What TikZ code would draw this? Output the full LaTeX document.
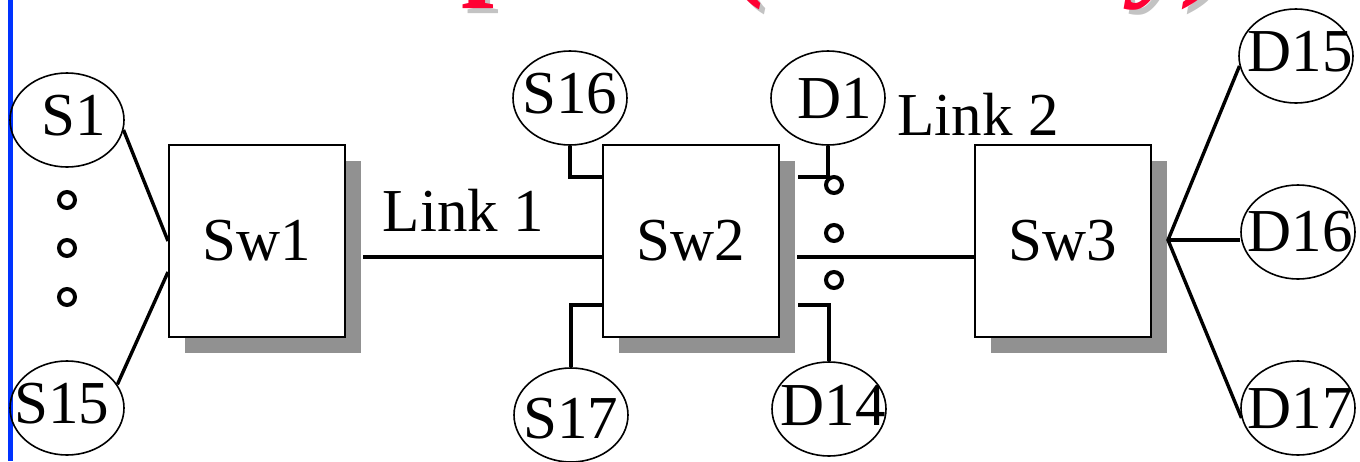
\documentclass[tikz,border=0pt]{standalone}
\usepackage{fontspec}
\setmainfont{Liberation Serif}
\usepackage{tikz}
\usetikzlibrary{calc,positioning,shapes.geometric,shadows}
\definecolor{titlered}{RGB}{255,0,51}
\definecolor{titleshade}{RGB}{195,195,195}
\definecolor{boxshade}{RGB}{145,145,145}
\definecolor{edgeblue}{RGB}{0,51,255}
\tikzset{
  switch/.style={draw,line width=1pt,fill=white,minimum width=88pt,minimum height=96pt,
    inner sep=0pt,drop shadow={shadow xshift=8pt,shadow yshift=-8pt,fill=boxshade,opacity=1}},
  host/.style={ellipse,draw,line width=0.8pt,minimum width=57pt,minimum height=47pt,inner sep=0pt},
  wire/.style={line width=1.7pt},
  ring/.style={line width=2pt},
  titletext/.style={inner sep=0pt,anchor=base west,font=\fontsize{59}{70}\selectfont\bfseries},
  every node/.style={font=\fontsize{30.5}{36}\selectfont},
  every label/.style={inner sep=0pt}
}

\begin{document}
\begin{tikzpicture}[x=0.5pt,y=-0.5pt]
  \useasboundingbox (0,0) rectangle (1360,461);
  \clip (0,0) rectangle (1360,461);
  % title, cut off by the top edge
  \node[titletext,text=titleshade] (titleshadow) at (171,-12)
    {Example 1 \textit{\fontsize{62}{70}\selectfont(Stability)}};
  \node[titletext,text=titlered] (title) at (166,-17)
    {Example 1 \textit{\fontsize{62}{70}\selectfont(Stability)}};
  % blue edge of the slide
  \draw[edgeblue,line width=2.2pt] (10.5,0) -- (10.5,461);
  % switches
  \node[switch] (sw1) at (257,241) {Sw1};
  \node[switch,right=128pt of sw1] (sw2) {Sw2};
  \node[switch,right=97pt of sw2] (sw3) {Sw3};
  % sources and destinations
  \node[host,label={[xshift=3.5pt,yshift=2pt]center:S1}] (s1) at (67,120) {};
  \node[host,label={[xshift=-2.5pt,yshift=2pt]center:S15}] (s15) at (67,408) {};
  \node[host,label={[yshift=2pt]center:S16}] (s16) at (570,98) {};
  \node[host,label={[yshift=-2pt]center:S17}] (s17) at (571,415) {};
  \node[host,label={[xshift=3.5pt]center:D1}] (d1) at (828,98) {};
  \node[host,label={[xshift=2pt,yshift=2pt]center:D14}] (d14) at (829,409) {};
  \node[host,label={[xshift=2pt,yshift=2pt]center:D15}] (d15) at (1296,56) {};
  \node[host,label={[xshift=1pt]center:D16}] (d16) at (1298,232) {};
  \node[host,label={[xshift=1pt]center:D17}] (d17) at (1298,408) {};
  % "more hosts" dots
  \foreach \y in {200,248,297} \draw[ring] (67,\y) circle (4pt);
  \foreach \y in {185,233,280} \draw[ring] (834,\y) circle (4pt);
  % links between switches
  \draw[wire] ($(sw1.east)+(17,16)$) -- ($(sw2.west)+(0,16)$)
    node[pos=0.42,above=12pt,inner sep=0pt] (link1) {Link 1};
  \draw[wire] ($(sw2.east)+(17,16)$) -- ($(sw3.west)+(0,16)$);
  \node[anchor=base,inner sep=0pt] (link2) at (978,135) {Link 2};
  % access lines
  \draw[wire] (s1.-10) -- (sw1.west);
  \draw[wire] (s15.25) -- ($(sw1.west)+(0,31)$);
  \draw[wire] (s16.south) |- ($(sw2.west)+(0,-64)$);
  \draw[wire] ($(sw2.west)+(0,64)$) -| (s17.north);
  \draw[wire] ($(sw2.east)+(18,-64)$) -| (d1.south);
  \draw[wire] ($(sw2.east)+(18,64)$) -| (d14.north);
  \coordinate (fan) at ($(sw3.east)+(16,-1)$);
  \draw[wire] (d15.190) -- (fan) -- (d17.190);
  \draw[wire] (fan) -- (fan -| d16.west);
\end{tikzpicture}
\end{document}
